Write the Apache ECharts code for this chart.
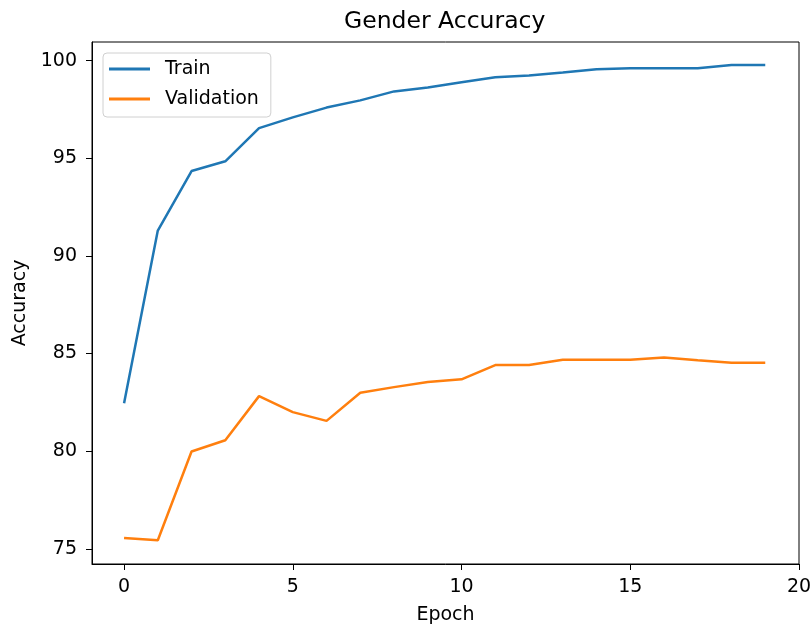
<!DOCTYPE html>
<html>
<head>
<meta charset="utf-8">
<script src="https://cdn.jsdelivr.net/npm/echarts@6/dist/echarts.min.js"></script>
<style>html,body{margin:0;padding:0;background:#fff;}#c{width:812px;height:624px;}</style>
</head>
<body>
<div id="c"></div>
<script>
const epochs = [0,1,2,3,4,5,6,7,8,9,10,11,12,13,14,15,16,17,18,19];
const trainAcc = [82.45,91.3,94.35,94.85,96.55,97.1,97.6,97.97,98.43,98.63,98.9,99.15,99.25,99.4,99.57,99.62,99.62,99.62,99.78,99.78];
const valAcc = [75.55,75.44,79.98,80.56,82.82,82.0,81.55,82.99,83.28,83.54,83.68,84.41,84.41,84.68,84.68,84.68,84.8,84.66,84.53,84.53];
const xTicks = [0,5,10,15,20];
const yTicks = [75,80,85,90,95,100];

const font = 'DejaVu Sans';
const chart = echarts.init(document.getElementById('c'), null, {renderer:'canvas'});
const pairs = arr => epochs.map((e,i)=>[e, arr[i]]);
chart.setOption({
  animation:false,
  backgroundColor:'#fff',
  textStyle:{fontFamily:font},
  title:{text:'Gender Accuracy', left:339, top:5, textStyle:{fontFamily:font, fontSize:23.5, fontWeight:'normal', color:'#000'}},
  legend:{
    left:103, top:53, orient:'vertical',
    backgroundColor:'rgba(255,255,255,0.8)', borderColor:'#d0d0d0', borderWidth:1, borderRadius:4,
    padding:[5,12,7,6], itemGap:8, itemWidth:41, itemHeight:3, icon:'rect',
    textStyle:{fontFamily:font, fontSize:19, lineHeight:22, color:'#000', padding:[0,0,0,10]},
    data:['Train','Validation']
  },
  grid:{left:92, right:13, top:42, bottom:60, show:true, borderColor:'#000', borderWidth:1, containLabel:false, outerBoundsMode:'none'},
  xAxis:{
    type:'value', min:-0.95, max:20,
    name:'Epoch', nameLocation:'middle', nameGap:42,
    nameTextStyle:{fontFamily:font, fontSize:19, color:'#000'},
    axisLine:{show:true, onZero:false, lineStyle:{color:'#000', width:1}},
    axisTick:{show:true, length:6, inside:false, customValues:xTicks, lineStyle:{color:'#000'}},
    axisLabel:{customValues:xTicks, fontFamily:font, fontSize:19, color:'#000', margin:14, showMinLabel:true, showMaxLabel:true},
    splitLine:{show:false}
  },
  yAxis:{
    type:'value', min:74.22, max:100.96,
    name:'Accuracy', nameLocation:'middle', nameGap:61, nameRotate:90,
    nameTextStyle:{fontFamily:font, fontSize:19, color:'#000'},
    axisLine:{show:true, onZero:false, lineStyle:{color:'#000', width:1}},
    axisTick:{show:true, length:6, inside:false, customValues:yTicks, lineStyle:{color:'#000'}},
    axisLabel:{customValues:yTicks, fontFamily:font, fontSize:19, color:'#000', margin:15},
    splitLine:{show:false}
  },
  series:[
    {name:'Train', type:'line', data:pairs(trainAcc), showSymbol:false, symbol:'none', lineStyle:{color:'#1f77b4', width:2.5}, itemStyle:{color:'#1f77b4'}},
    {name:'Validation', type:'line', data:pairs(valAcc), showSymbol:false, symbol:'none', lineStyle:{color:'#ff7f0e', width:2.5}, itemStyle:{color:'#ff7f0e'}}
  ]
});
</script>
</body>
</html>
